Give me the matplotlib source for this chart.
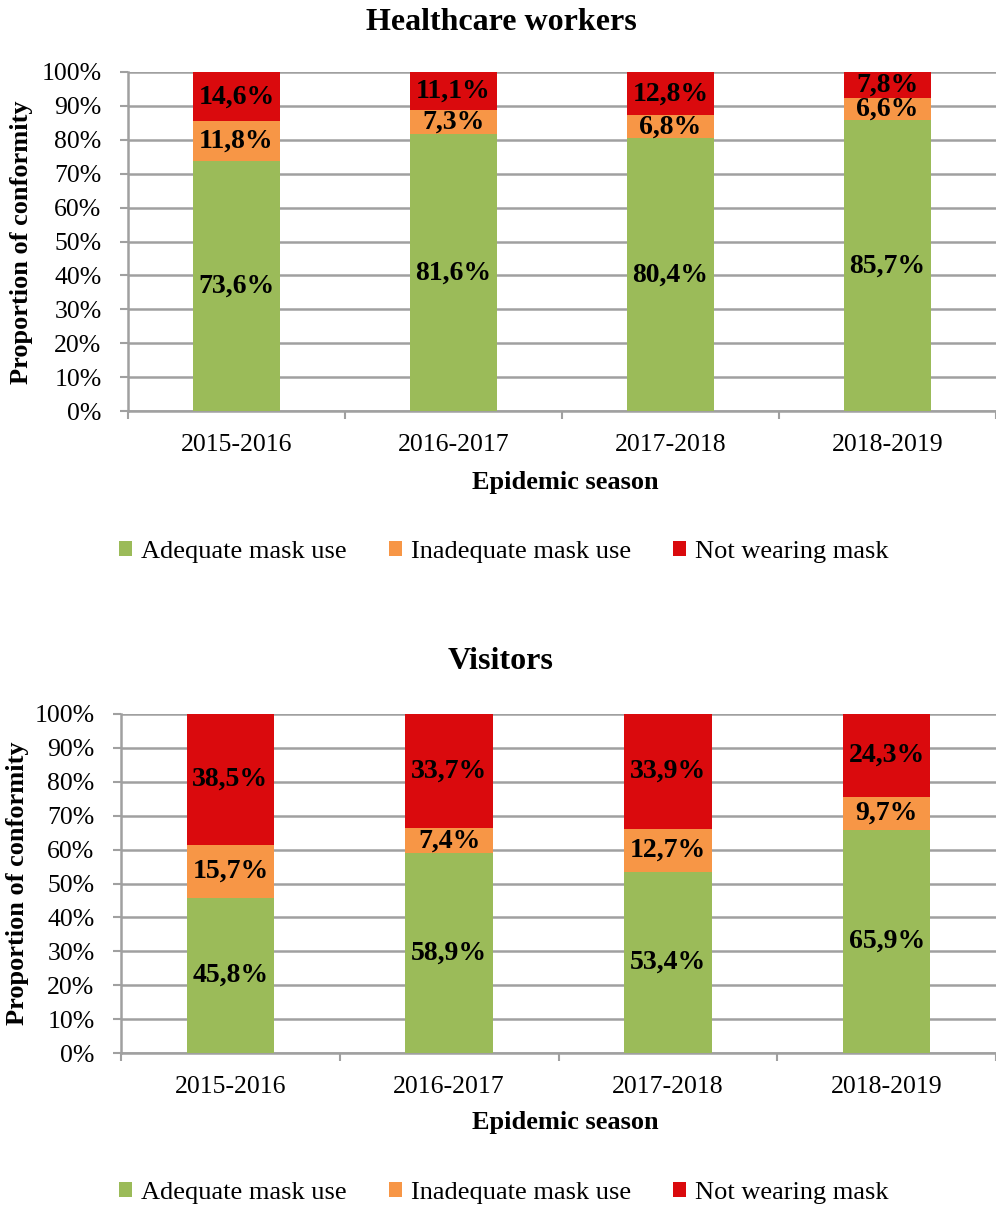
import numpy as np
import matplotlib
matplotlib.use("Agg")
import matplotlib.pyplot as plt
from matplotlib.patches import Patch

plt.rcParams['font.family'] = ['Liberation Serif', 'DejaVu Serif']

seasons = ["2015-2016", "2016-2017", "2017-2018", "2018-2019"]
series_names = ["Adequate mask use", "Inadequate mask use", "Not wearing mask"]
colors = ["#9BBB59", "#F79646", "#DA0A0D"]

hcw_adequate = [73.6, 81.6, 80.4, 85.7]
hcw_inadequate = [11.8, 7.3, 6.8, 6.6]
hcw_none = [14.6, 11.1, 12.8, 7.8]

vis_adequate = [45.8, 58.9, 53.4, 65.9]
vis_inadequate = [15.7, 7.4, 12.7, 9.7]
vis_none = [38.5, 33.7, 33.9, 24.3]

W, H = 996, 1209
fig = plt.figure(figsize=(W / 100, H / 100), dpi=100)

grey = "#A0A0A0"


def fmt(v):
    return f"{v:.1f}".replace(".", ",") + "%"


def panel(rect, title, title_y, data, xmax, ylab_x, ylab_y, xlab_x, xlab_y, leg_y):
    ax = fig.add_axes(rect)
    x = np.arange(len(seasons))
    bottom = np.zeros(len(seasons))
    for vals, col in zip(data, colors):
        vals = np.array(vals)
        ax.bar(x, vals, 0.4, bottom=bottom, color=col, zorder=3)
        for xi, b, v in zip(x, bottom, vals):
            ax.text(xi, b + v / 2, fmt(v), ha="center", va="center",
                    fontsize=20, fontweight="bold", color="black", zorder=4)
        bottom += vals

    ax.set_ylim(0, 100)
    ax.set_xlim(-0.5, xmax)
    ax.set_yticks(np.arange(0, 101, 10))
    ax.set_yticklabels([f"{t}%" for t in range(0, 101, 10)])
    ax.set_xticks(x)
    ax.set_xticklabels(seasons)
    ax.set_xticks(np.arange(-0.5, 3.6, 1.0), minor=True)
    ax.tick_params(axis="x", which="major", length=0, pad=16.5, labelsize=18.5)
    ax.tick_params(axis="x", which="minor", length=6, width=1.5, color=grey)
    ax.tick_params(axis="y", length=6, width=1.5, color=grey, pad=13, labelsize=18.5)
    ax.grid(axis="y", color=grey, linewidth=1.8, zorder=0)
    for s in ["top", "right"]:
        ax.spines[s].set_visible(False)
    for s in ["left", "bottom"]:
        ax.spines[s].set_color(grey)
        ax.spines[s].set_linewidth(1.8)

    fig.text(0.503, title_y, title, ha="center", va="center",
             fontsize=23, fontweight="bold")
    fig.text(ylab_x, ylab_y, "Proportion of conformity", rotation=90,
             ha="center", va="center", fontsize=19, fontweight="bold")
    fig.text(xlab_x, xlab_y, "Epidemic season", ha="center", va="center",
             fontsize=19, fontweight="bold")

    handles = [Patch(facecolor=c, edgecolor="none") for c in colors]
    fig.legend(handles, series_names, loc="center", ncol=3,
               bbox_to_anchor=(0.506, leg_y), frameon=False, fontsize=19,
               handlelength=0.48, handleheight=0.48, handletextpad=0.35,
               columnspacing=1.6)
    return ax


panel([128 / W, 1 - 411 / H, 868 / W, 339 / H], "Healthcare workers", 1 - 22 / H,
      [hcw_adequate, hcw_inadequate, hcw_none], 3.44,
      22 / W, 1 - 242 / H, 565 / W, 1 - 483 / H, 1 - 552 / H)

panel([121 / W, 1 - 1053 / H, 875 / W, 339 / H], "Visitors", 1 - 662 / H,
      [vis_adequate, vis_inadequate, vis_none], 3.40,
      18 / W, 1 - 883 / H, 565 / W, 1 - 1123 / H, 1 - 1193 / H)

fig.savefig("out.png", dpi=100)
